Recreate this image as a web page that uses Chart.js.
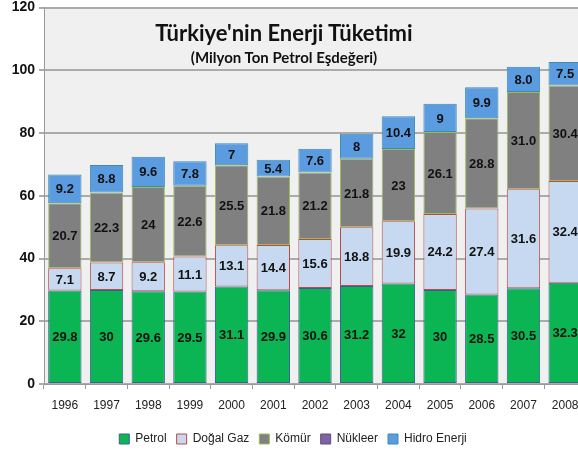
<!DOCTYPE html>
<html>
<head>
<meta charset="utf-8">
<script src="https://cdn.jsdelivr.net/npm/chart.js@4.4.0/dist/chart.umd.min.js"></script>
<style>
  body { margin: 0; background: #fff; overflow: hidden; }
  #wrap { position: relative; width: 592px; height: 455px; }
  .baslik { position: absolute; left: 0; width: 568px; text-align: center; font-family: Lato, sans-serif; font-weight: bold; color: #111; }
  #t1 { top: 19px; font-size: 22px; }
  #t2 { top: 48px; font-size: 15px; }
</style>
</head>
<body>
<div id="wrap">
  <canvas id="enerji" width="592" height="455"></canvas>
  <div class="baslik" id="t1">Türkiye'nin Enerji Tüketimi</div>
  <div class="baslik" id="t2">(Milyon Ton Petrol Eşdeğeri)</div>
</div>
<script>
// yillar ve seriler (milyon TEP)
const yillar = ["1996", "1997", "1998", "1999", "2000", "2001", "2002", "2003", "2004", "2005", "2006", "2007", "2008"];
const petrol = ["29.8", "30", "29.6", "29.5", "31.1", "29.9", "30.6", "31.2", "32", "30", "28.5", "30.5", "32.3"];
const dogalGaz = ["7.1", "8.7", "9.2", "11.1", "13.1", "14.4", "15.6", "18.8", "19.9", "24.2", "27.4", "31.6", "32.4"];
const komur = ["20.7", "22.3", "24", "22.6", "25.5", "21.8", "21.2", "21.8", "23", "26.1", "28.8", "31.0", "30.4"];
const nukleer = ["0", "0", "0", "0", "0", "0", "0", "0", "0", "0", "0", "0", "0"];
const hidro = ["9.2", "8.8", "9.6", "7.8", "7", "5.4", "7.6", "8", "10.4", "9", "9.9", "8.0", "7.5"];
const yTikler = [0, 20, 40, 60, 80, 100, 120];

// arka plan: cizim alani gri
const arkaPlan = {
  id: "arkaPlan",
  beforeDraw(chart) {
    const a = chart.chartArea;
    const ctx = chart.ctx;
    ctx.save();
    ctx.fillStyle = "#f0f0f0";
    ctx.fillRect(a.left, a.top, a.right - a.left, a.bottom - a.top);
    ctx.restore();
  }
};

// segment etiketleri (datalabels yok, elle yaziyoruz)
const etiketler = {
  id: "etiketler",
  afterDatasetsDraw(chart) {
    const ctx = chart.ctx;
    ctx.save();
    ctx.font = "bold 13px 'Liberation Sans', Arial, sans-serif";
    ctx.fillStyle = "#111";
    ctx.textAlign = "center";
    ctx.textBaseline = "middle";
    chart.data.datasets.forEach((ds, i) => {
      const meta = chart.getDatasetMeta(i);
      meta.data.forEach((bar, j) => {
        if (Number(ds.etiket[j]) === 0) return;
        ctx.fillText(ds.etiket[j], bar.x, (bar.y + bar.base) / 2 + 1);
      });
    });
    ctx.restore();
  }
};

function seri(ad, degerler, renk, kenar) {
  return {
    label: ad,
    data: degerler.map(Number),
    etiket: degerler,
    backgroundColor: renk,
    borderColor: kenar,
    borderWidth: 1,
    borderSkipped: false,
    barPercentage: 0.8,
    categoryPercentage: 1
  };
}

const ctx = document.getElementById("enerji").getContext("2d");
const grafik = new Chart(ctx, {
  type: "bar",
  data: {
    labels: yillar,
    datasets: [
      seri("Petrol", petrol, "#0cb553", "#3a5f94"),
      seri("Doğal Gaz", dogalGaz, "#c6d9f0", "#b84a48"),
      seri("Kömür", komur, "#808080", "#9bbb59"),
      seri("Nükleer", nukleer, "#8064a2", "#5f4a80"),
      seri("Hidro Enerji", hidro, "#5b9bdf", "#3d8cb0")
    ]
  },
  options: {
    responsive: false,
    animation: false,
    layout: { padding: { top: 7, left: 0, right: 6, bottom: 0 } },
    plugins: {
      tooltip: { enabled: false },
      title: { display: false },
      legend: {
        position: "bottom",
        labels: {
          boxWidth: 10,
          boxHeight: 10,
          padding: 10,
          color: "#222",
          font: { family: "'Liberation Sans', Arial, sans-serif", size: 12 }
        }
      }
    },
    scales: {
      x: {
        stacked: true,
        grid: { offset: true, drawOnChartArea: false, drawTicks: true, tickLength: 5, color: "#9a9a9a" },
        border: { color: "#9a9a9a", width: 1 },
        ticks: { color: "#222", padding: 9, font: { family: "'Liberation Sans', Arial, sans-serif", size: 12 } },
        afterFit(s) { s.height = 39; }
      },
      y: {
        stacked: true,
        min: 0,
        max: 120,
        afterBuildTicks(s) { s.ticks = yTikler.map((v) => ({ value: v })); },
        grid: { color: "#ababab", lineWidth: 2, tickLength: 5 },
        border: { color: "#9a9a9a", width: 1 },
        ticks: { color: "#111", padding: 4, font: { family: "'Liberation Sans', Arial, sans-serif", size: 14, weight: "bold", lineHeight: 0.5 } },
        afterFit(s) { s.width = 44; }
      }
    }
  },
  plugins: [arkaPlan, etiketler]
});
</script>
</body>
</html>
